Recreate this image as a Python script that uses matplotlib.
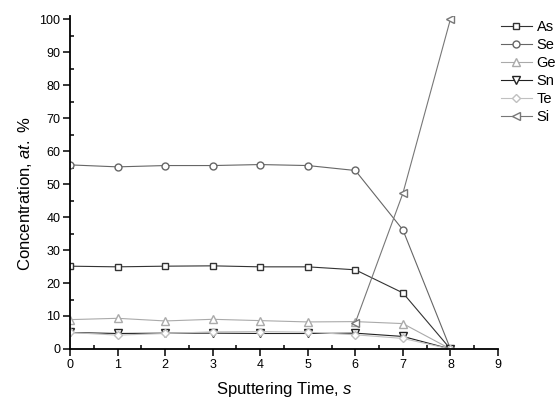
import numpy as np
import matplotlib.pyplot as plt
from matplotlib.ticker import MultipleLocator

plt.rcParams['font.family'] = ['Liberation Sans', 'DejaVu Sans']
plt.rcParams['mathtext.fontset'] = 'custom'
plt.rcParams['mathtext.rm'] = 'Liberation Sans'
plt.rcParams['mathtext.it'] = 'Liberation Sans:italic'

time = [0, 1, 2, 3, 4, 5, 6, 7, 8]
As = [25.1, 24.9, 25.1, 25.2, 24.9, 24.9, 24.0, 17.0, 0]
Se = [55.8, 55.2, 55.6, 55.6, 55.9, 55.6, 54.1, 36.1, 0]
Ge = [8.9, 9.3, 8.5, 9.0, 8.6, 8.2, 8.3, 7.7, 0]
Sn = [5.0, 4.7, 4.8, 4.8, 4.7, 4.7, 4.8, 3.8, 0]
Te = [5.0, 4.2, 4.7, 5.2, 5.3, 5.1, 4.3, 3.2, 0]
si_time = [6, 7, 8]
Si = [8.0, 47.2, 100]

fig = plt.figure(figsize=(5.57, 4.01), dpi=100)
ax = fig.add_axes([0.1257, 0.1297, 0.7684, 0.831])

ax.plot(time, As, '-s', color='#333333', mfc='white', ms=4.5, lw=0.8, label='As')
ax.plot(time, Se, '-o', color='#666666', mfc='white', ms=5, lw=0.8, label='Se')
ax.plot(time, Ge, '-^', color='#aaaaaa', mfc='white', ms=6, lw=0.8, label='Ge')
ax.plot(time, Sn, '-v', color='#222222', mfc='white', ms=6, lw=0.8, label='Sn')
ax.plot(time, Te, '-D', color='#c0c0c0', mfc='white', ms=4.5, lw=0.8, label='Te')
ax.plot(si_time, Si, '-<', color='#777777', mfc='white', ms=6, lw=0.8, label='Si')

ax.set_xlim(0, 9)
ax.set_ylim(0, 101)
ax.xaxis.set_major_locator(MultipleLocator(1))
ax.xaxis.set_minor_locator(MultipleLocator(0.5))
ax.yaxis.set_major_locator(MultipleLocator(10))
ax.yaxis.set_minor_locator(MultipleLocator(5))
ax.tick_params(which='major', direction='out', length=5, width=1.1, labelsize=9, pad=2)
ax.tick_params(which='minor', direction='in', length=3, width=1.1)
ax.spines['top'].set_visible(False)
ax.spines['right'].set_visible(False)
ax.spines['left'].set_linewidth(1.3)
ax.spines['bottom'].set_linewidth(1.3)

ax.set_xlabel(r'Sputtering Time, $\it{s}$', fontsize=12, labelpad=7)
ax.set_ylabel(r'Concentration, $\it{at.}$ %', fontsize=12)
ax.yaxis.set_label_coords(-0.085, 0.4665)

ax.legend(loc='upper left', bbox_to_anchor=(501 / 557, 1 - 20 / 401),
          bbox_transform=fig.transFigure, frameon=False, borderpad=0,
          borderaxespad=0, fontsize=10.5, handlelength=2.1, labelspacing=0.27,
          handletextpad=0.34)

fig.savefig('out.png', dpi=100)
